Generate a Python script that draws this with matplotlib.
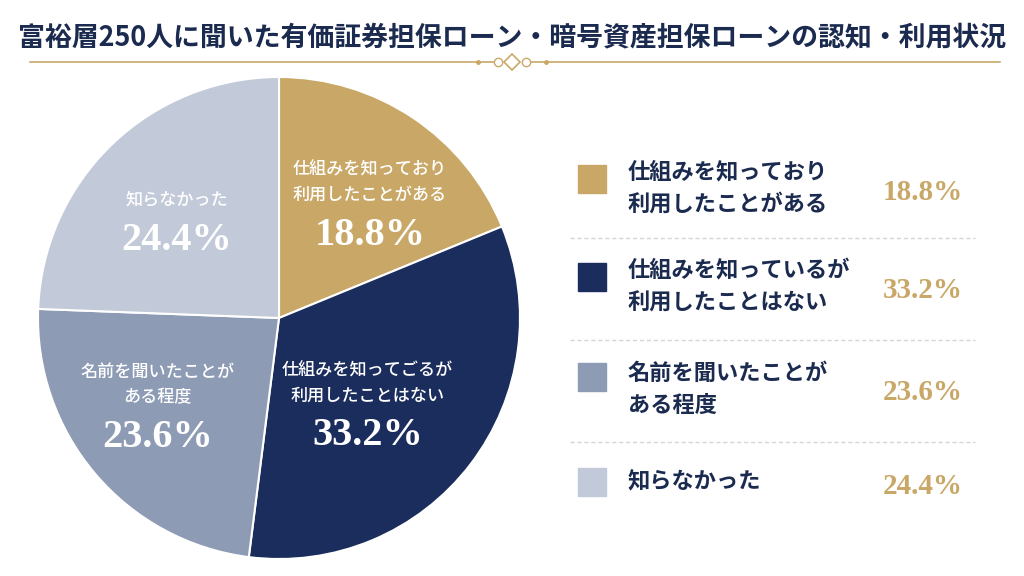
import numpy as np
import matplotlib.pyplot as plt
from matplotlib.patches import Rectangle

plt.rcParams['font.family'] = ['Noto Sans CJK JP', 'DejaVu Sans']

# data
title = '富裕層250人に聞いた有価証券担保ローン・暗号資産担保ローンの認知・利用状況'
legend_labels = ['仕組みを知っており\n利用したことがある',
                 '仕組みを知っているが\n利用したことはない',
                 '名前を聞いたことが\nある程度',
                 '知らなかった']
pie_labels = ['仕組みを知っており\n利用したことがある',
              '仕組みを知ってごるが\n利用したことはない',
              '名前を聞いたことが\nある程度',
              '知らなかった']
values = [18.8, 33.2, 23.6, 24.4]
colours = ['#C9A867', '#1B2D5C', '#8D9BB5', '#C2C9D8']

NAVY = '#1B2A4F'
GOLD = '#C9A867'
SERIF = ['Liberation Serif', 'DejaVu Serif']
W, H = 1024, 576

fig = plt.figure(figsize=(10.24, 5.76), dpi=100)
fig.patch.set_facecolor('white')

# title + ornament line
fig.text(512 / W, 1 - 38 / H, title, ha='center', va='center',
         fontsize=19.4, fontweight='bold', color=NAVY)
deco = fig.add_axes([0, 0, 1, 1], zorder=-1)
deco.set_xlim(0, W)
deco.set_ylim(H, 0)
deco.axis('off')
deco.plot([30, 493], [62, 62], color=GOLD, lw=1.2)
deco.plot([531, 1000], [62, 62], color=GOLD, lw=1.2)
deco.plot([512], [62], marker='D', ms=8, mfc='white', mec=GOLD, mew=1.2)
deco.plot([498, 526], [62, 62], ls='None', marker='o', ms=6, mfc='white', mec=GOLD, mew=1.0)
deco.plot([478, 546], [62, 62], ls='None', marker='o', ms=2.5, color=GOLD)

# pie
cx, cy, r = 279, 318, 241
ax = fig.add_axes([(cx - r) / W, (H - cy - r) / H, 2 * r / W, 2 * r / H])
wedges, _ = ax.pie(values, colors=colours, startangle=90, counterclock=False,
                   wedgeprops=dict(edgecolor='white', linewidth=1.5))
ax.set_xlim(-1, 1)
ax.set_ylim(-1, 1)
ax.set_aspect('equal')

label_r = [0.517, 0.604, 0.70, 0.54]
label_shift = [-13, -15, 3.5, 8]
for ii, w in enumerate(wedges):
    ang = np.deg2rad((w.theta1 + w.theta2) / 2 + label_shift[ii])
    x, y = label_r[ii] * np.cos(ang), label_r[ii] * np.sin(ang)
    ax.text(x, y + 0.12, pie_labels[ii], ha='center', va='bottom', color='white',
            fontsize=12.3, fontweight='medium', linespacing=1.5)
    ax.text(x, y - 0.01, '%.1f%%' % values[ii], ha='center', va='center', color='white',
            fontsize=29, fontweight='bold', family=SERIF)

# legend
row_y = [188, 287, 389, 482]
sq_y = [179, 277, 377, 482]
for ii in range(len(values)):
    deco.add_patch(Rectangle((578, sq_y[ii] - 14), 28, 28, color=colours[ii]))
    deco.text(628, row_y[ii], legend_labels[ii], ha='left', va='center',
              fontsize=16, fontweight='bold', color=NAVY, linespacing=1.5)
    deco.text(963, row_y[ii] + 4, '%.1f%%' % values[ii], ha='right', va='center',
              fontsize=21, fontweight='bold', color=GOLD, family=SERIF)
for yy in [238, 340, 442]:
    deco.plot([570, 975], [yy, yy], color='#D5D5D5', lw=1, ls=(0, (3, 2)))

fig.savefig('out.png', dpi=100, facecolor='white')
